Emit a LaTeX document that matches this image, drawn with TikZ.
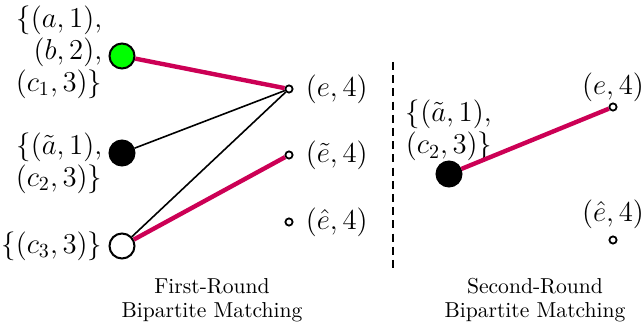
\documentclass[tikz,border=0pt]{standalone}
\usetikzlibrary{positioning}
\definecolor{matchred}{RGB}{204,0,85}
\begin{document}
\begin{tikzpicture}[
        x=0.5pt, y=-0.5pt,
        bidder/.style={
            circle, draw=black, line width=1pt,
            minimum size=12.5pt, inner sep=0pt
        },
        item/.style={
            circle, draw=black, line width=0.9pt,
            fill=white, minimum size=3.6pt, inner sep=0pt
        },
        lbl/.style={
            font=\fontsize{14.4}{16}\selectfont, inner sep=1pt
        },
        caption/.style={
            align=center, inner sep=0pt,
            font=\fontsize{10.8}{12}\selectfont
        },
        edge/.style={draw=black, line width=0.8pt},
        matched/.style={draw=matchred, line width=2.2pt}
    ]
    \useasboundingbox (0,0) rectangle (642,335);

    % Bidders of the first round
    \node[bidder, fill=green] (g1) at (122, 56)  {};
    \node[bidder, fill=black] (b1) at (122, 153) {};
    \node[bidder, fill=white] (w1) at (122, 246) {};

    \node[lbl, align=right, left=2pt of g1, yshift=2pt]
        (g1lbl) {$\{(a,1),$\\$(b,2),$\\$(c_1,3)\}$};
    \node[lbl, align=right, left=2pt of b1, yshift=-5pt]
        (b1lbl) {$\{(\tilde{a},1),$\\$(c_2,3)\}$};
    \node[lbl, left=2pt of w1] (w1lbl) {$\{(c_3,3)\}$};

    % Items of the first round
    \node[item] (e1) at (289, 89)  {};
    \node[item] (e2) at (289, 155) {};
    \node[item] (e3) at (289, 222) {};

    \node[lbl, right=5pt of e1] (e1lbl) {$(e,4)$};
    \node[lbl, right=5pt of e2] (e2lbl) {$(\tilde{e},4)$};
    \node[lbl, right=5pt of e3] (e3lbl) {$(\hat{e},4)$};

    % Edges of the first round
    \draw[edge] (b1) -- (e1);
    \draw[edge] (w1) -- (e1);
    \draw[matched] (g1) -- (e1);
    \draw[matched] (w1) -- (e2);

    % Cut between the rounds
    \coordinate (cuttop) at (393, 62);
    \coordinate (cutbot) at (393, 268);
    \draw[line width=1pt, dash pattern=on 4pt off 2.6pt] (cuttop) -- (cutbot);

    % Second round
    \node[bidder, fill=black] (b2) at (449, 174) {};
    \node[lbl, align=left, above=-1.5pt of b2]
        (b2lbl) {$\{(\tilde{a},1),$\\$(c_2,3)\}$};

    \node[item] (f1) at (613, 107) {};
    \node[item] (f2) at (613, 240) {};
    \node[lbl, above=-1pt of f1] (f1lbl) {$(e,4)$};
    \node[lbl, above=2pt of f2] (f2lbl) {$(\hat{e},4)$};

    \draw[matched] (b2) -- (f1);

    % Captions
    \node[caption] (cap1) at (212, 300) {First-Round\\Bipartite Matching};
    \node[caption] (cap2) at (535, 300) {Second-Round\\Bipartite Matching};

    \end{tikzpicture}
\end{document}
